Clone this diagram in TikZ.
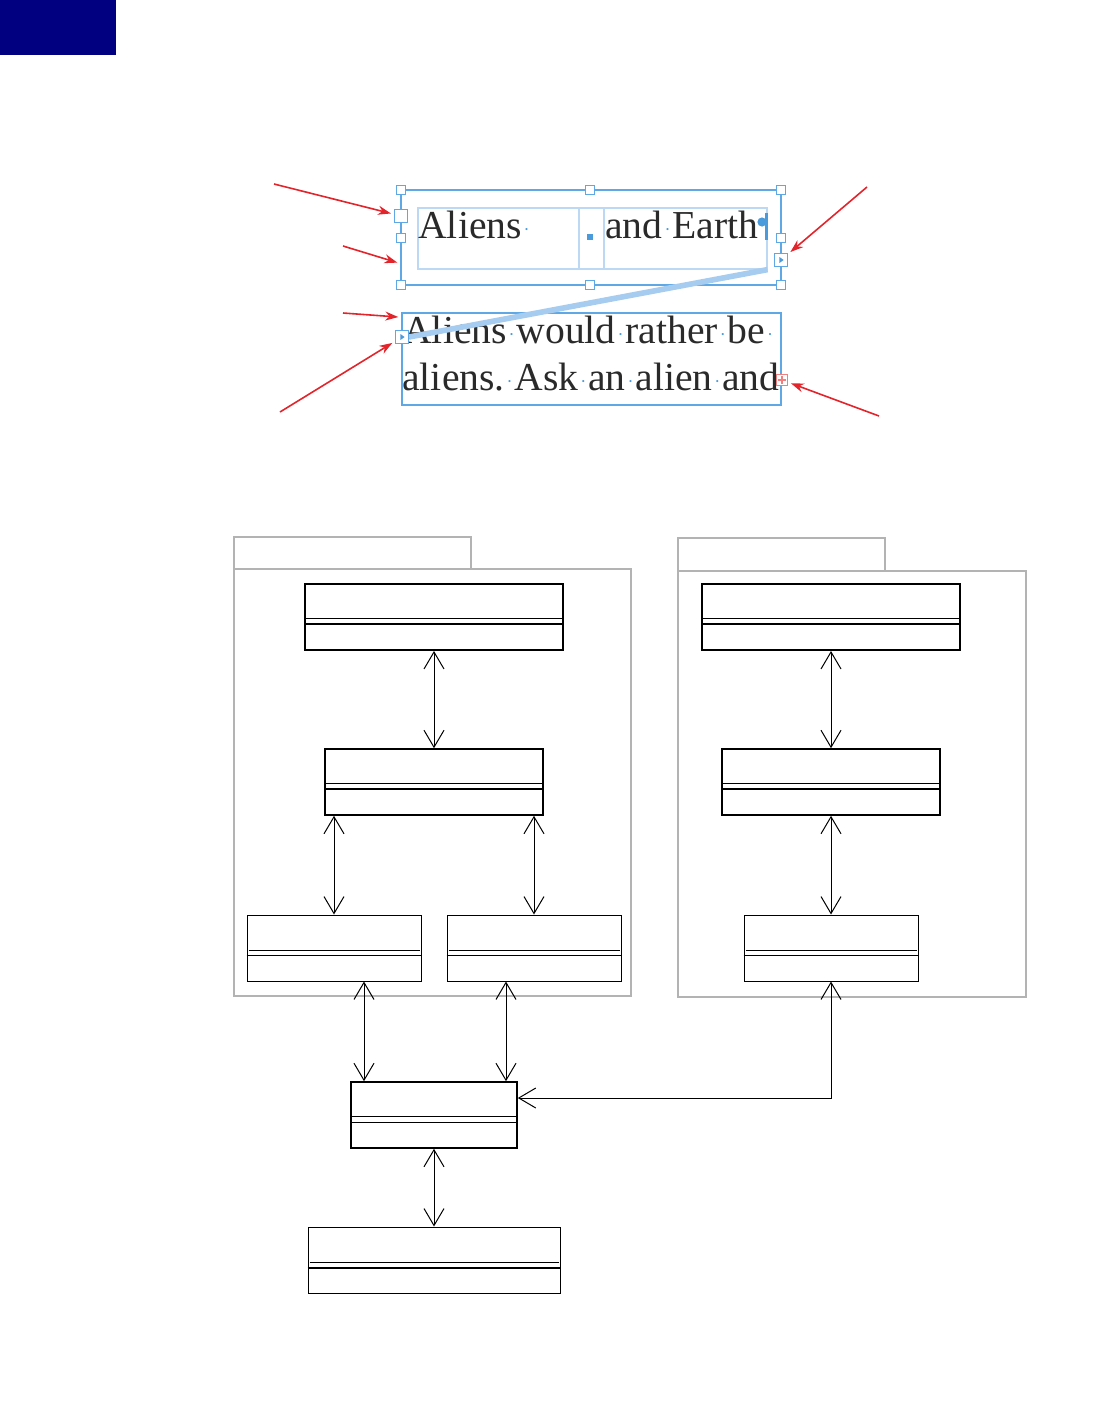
\documentclass[tikz,border=0pt]{standalone}
\usepackage{fontspec}
\setmainfont{Liberation Serif}
\usetikzlibrary{fit,arrows.meta}
\definecolor{navy}{HTML}{000080}
\definecolor{frameblue}{HTML}{5FA8E6}
\definecolor{innerblue}{HTML}{BCD8F2}
\definecolor{threadblue}{HTML}{A6CCF0}
\definecolor{dotblue}{HTML}{4A9BDB}
\definecolor{calloutred}{HTML}{E3242B}
\definecolor{pkggray}{HTML}{B3B3B3}
\definecolor{oversetred}{HTML}{F08080}
\definecolor{txtgray}{HTML}{2A2A2A}
\newcommand\wsp{\hbox to 0.25em{\hss\textcolor{dotblue}{\raisebox{1.5pt}{\fontsize{9}{9}\selectfont ·}}\hss}}
\newcommand\umlclass[7]{%
  \node[fit={(#2,#3)(#4,#5)}, inner sep=0pt, draw, line width=#6] (#1) {};
  \draw[line width=0.5pt] ([xshift=1pt,yshift=-17.75pt]#1.north west) -- ([xshift=-1pt,yshift=-17.75pt]#1.north east);
  \draw[line width=#7] ([yshift=-20.5pt]#1.north west) -- ([yshift=-20.5pt]#1.north east);
}
\newcommand\porttri[1]{%
  \fill[dotblue] ([xshift=-0.8pt,yshift=1.5pt]#1.center) -- ([xshift=-0.8pt,yshift=-1.5pt]#1.center) -- ([xshift=1.3pt]#1.center) -- cycle;}
\begin{document}
\begin{tikzpicture}[x=0.5pt,y=-0.5pt,
  handle/.style={draw=frameblue, fill=white, line width=0.6pt, minimum size=4.5pt, inner sep=0pt, rectangle},
  bighandle/.style={handle, minimum size=6.5pt},
  tframe/.style={draw=frameblue, line width=0.75pt, inner sep=0pt},
  txt/.style={anchor=base west, inner sep=0pt, text=txtgray, font=\fontsize{19.8}{19.8}\selectfont},
  callout/.style={draw=calloutred, line width=0.8pt, -{Stealth[length=6.5pt,width=4.5pt]}, shorten >=1.5pt},
  pkg/.style={draw=pkggray, line width=0.6pt, inner sep=0pt},
  umlarrow/.style={line width=0.5pt, arrows={Straight Barb[length=8.5pt,width=10pt]-Straight Barb[length=8.5pt,width=10pt]}}
]
\useasboundingbox (0,0) rectangle (1114,1414);
\fill[navy] (0,0) rectangle (116,55);

% ---------- top: text frames ----------
\node[tframe, fit={(401,190)(781,285)}] (f1) {};
\node[draw=innerblue, line width=0.6pt, inner sep=0pt, fit={(418,208)(767,269)}] (inner) {};
\draw[innerblue, line width=0.6pt] (579,208) -- (579,269);
\draw[innerblue, line width=0.6pt] (604,208) -- (604,269);
\node[txt] (t1) at (418,238) {Aliens\wsp};
\node[txt] (t2) at (605,238) {and\wsp Earth};
\fill[dotblue] (587,234) rectangle (593,240);
\fill[dotblue] (762,222) circle[radius=2.3pt];
\fill[dotblue] (765,213) rectangle (768,240);

\node[tframe, fit={(402,313)(781,405)}] (f2) {};
\node[txt] (t3) at (403,343) {Aliens\wsp would\wsp rather\wsp be\wsp};
\node[txt] (t4) at (402,390) {aliens.\wsp Ask\wsp an\wsp alien\wsp and};

% thread
\node[bighandle] (p2) at (402,337) {};
\draw[threadblue, line width=2.8pt] (inner.south east) -- (p2.east);

% handles
\foreach \n/\x/\y in {ha/401/190, hb/590/190, hc/781/190, hd/401/285, he/590/285, hf/781/285, hg/401/238, hh/781/238}
  \node[handle] (\n) at (\x,\y) {};
\node[bighandle] (h1) at (401,216) {};
\node[bighandle] (p1) at (781,260) {};
\porttri{p1}
\node[bighandle] (p2b) at (402,337) {};
\porttri{p2b}
\node[draw=oversetred, fill=white, minimum size=5.5pt, inner sep=0pt, line width=0.6pt] (ov) at (782,380) {};
\draw[oversetred, line width=0.6pt] ([yshift=1.8pt]ov.center) -- ([yshift=-1.8pt]ov.center)
  ([xshift=-1.8pt]ov.center) -- ([xshift=1.8pt]ov.center);

% callouts
\coordinate (r1) at (274,184);
\coordinate (r2) at (343,246);
\coordinate (r3) at (343,313);
\coordinate (r4) at (280,412);
\coordinate (r5) at (867,187);
\coordinate (r6) at (879,416);
\draw[callout] (r1) -- (h1);
\draw[callout] (r2) -- ([yshift=-13pt]f1.west);
\draw[callout] (r3) -- ([yshift=-2.5pt]f2.north west);
\draw[callout] (r4) -- (p2b);
\draw[callout] (r5) -- (p1);
\draw[callout] (r6) -- (ov);

% ---------- bottom: UML ----------
\node[pkg, fit={(234,537)(471,569)}] (pk1tab) {};
\node[pkg, fit={(234,569)(631,996)}] (pk1) {};
\node[pkg, fit={(678,538)(885,571)}] (pk2tab) {};
\node[pkg, fit={(678,571)(1026,997)}] (pk2) {};

\umlclass{a1}{305}{584}{563}{650}{1pt}{1pt}
\umlclass{a2}{325}{749}{543}{815}{0.8pt}{1pt}
\umlclass{a3}{247}{915}{421}{981}{0.5pt}{0.6pt}
\umlclass{a4}{447}{915}{621}{981}{0.5pt}{0.6pt}
\umlclass{b1}{702}{584}{960}{650}{1pt}{1pt}
\umlclass{b2}{722}{749}{940}{815}{0.8pt}{1pt}
\umlclass{b3}{744}{915}{918}{981}{0.5pt}{0.6pt}
\umlclass{c1}{351}{1082}{517}{1148}{0.8pt}{0.5pt}
\umlclass{c2}{308}{1227}{560}{1293}{0.5pt}{1pt}

\draw[umlarrow] (a1.south) -- (a2.north);
\draw[umlarrow] (a3.north |- a2.south) -- (a3.north);
\draw[umlarrow] (a4.north |- a2.south) -- (a4.north);
\draw[umlarrow] (b1.south) -- (b2.north);
\draw[umlarrow] (b2.south) -- (b3.north);
\draw[umlarrow] ([xshift=15pt]a3.south) -- ([xshift=15pt]a3.south |- c1.north);
\draw[umlarrow] ([xshift=-14pt]a4.south) -- ([xshift=-14pt]a4.south |- c1.north);
\draw[umlarrow] (b3.south) |- ([yshift=8.5pt]c1.east);
\draw[umlarrow] (c1.south) -- (c2.north);
\end{tikzpicture}
\end{document}
